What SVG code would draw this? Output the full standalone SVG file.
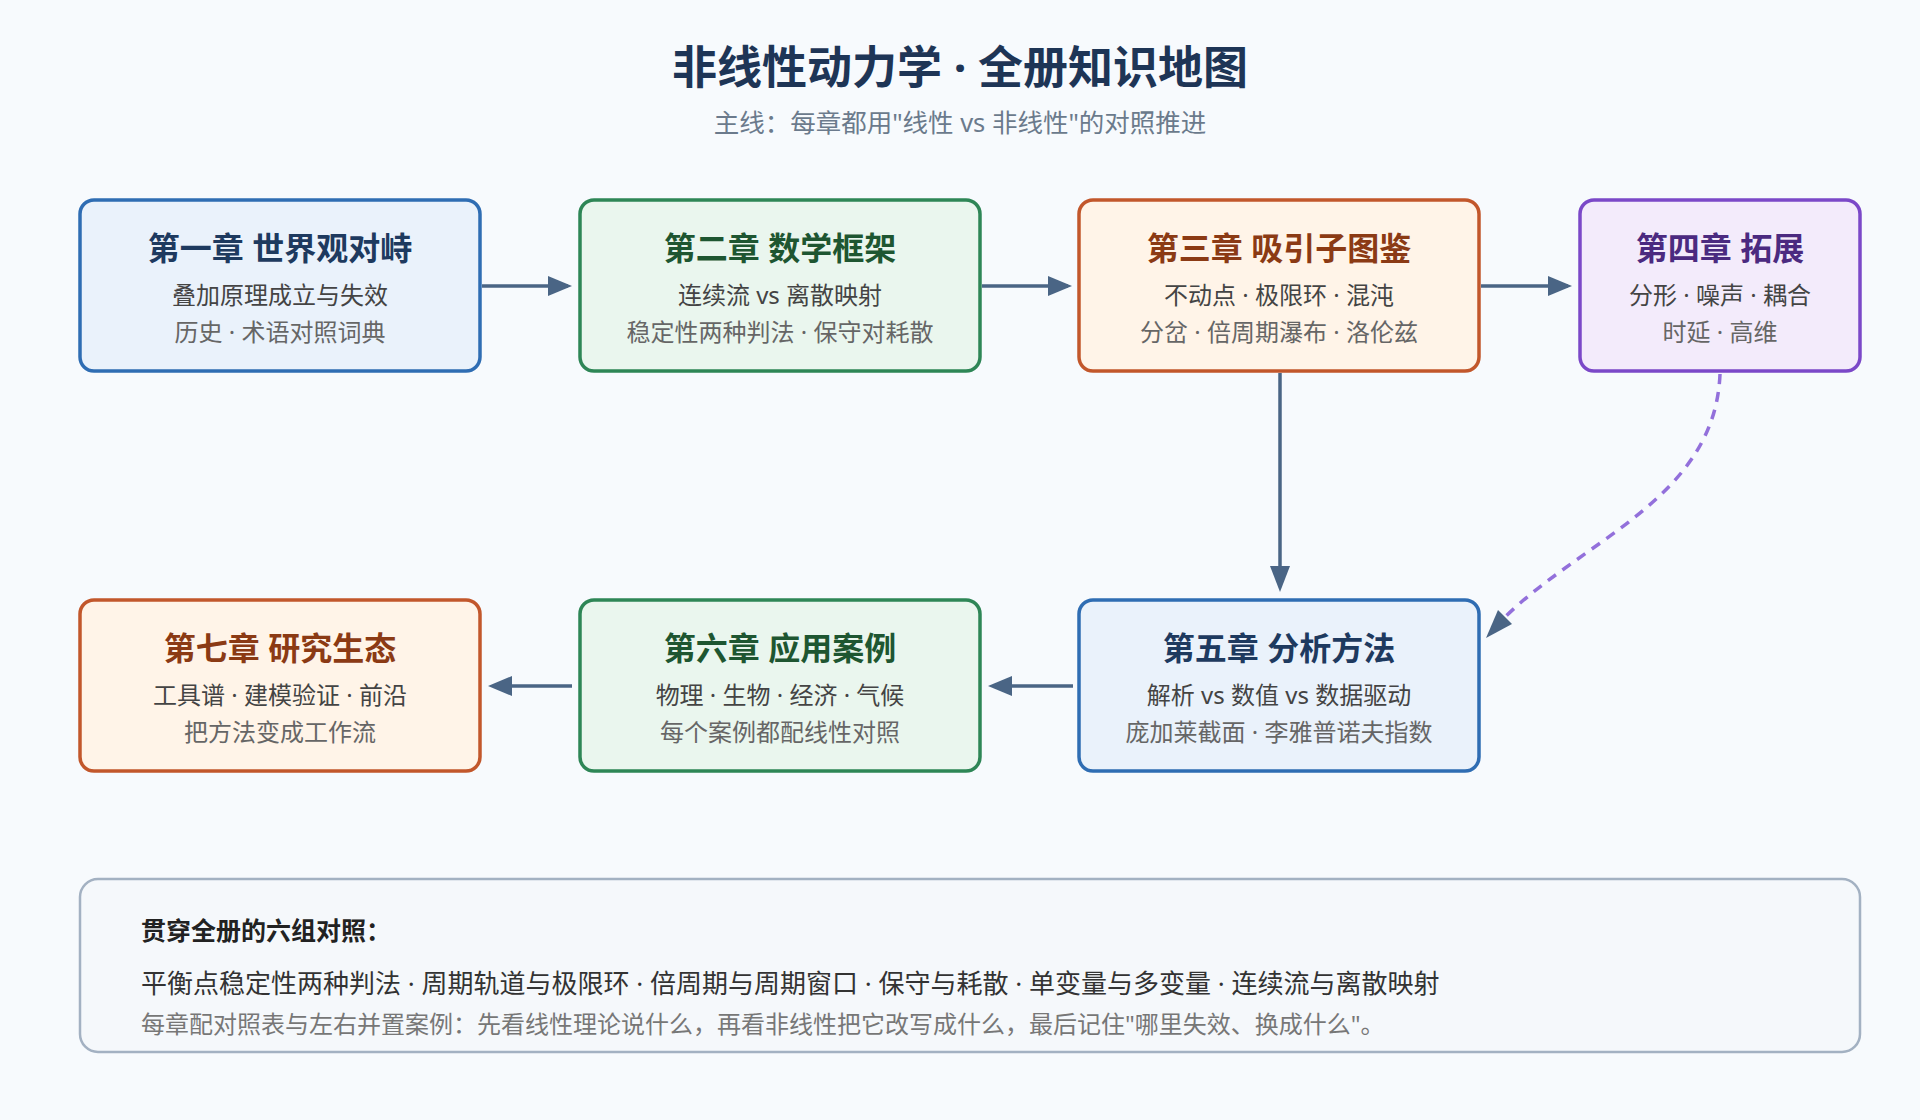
<svg xmlns="http://www.w3.org/2000/svg" width="1920" height="1120" viewBox="0 0 1920 1120">
<defs>
<style>
text{font-family:"Noto Sans","Noto Sans CJK SC",sans-serif;text-anchor:middle}
.t{font-size:32px;font-weight:700}
.b{font-size:24px;fill:#444}
.c{font-size:24px;fill:#666}
.box{stroke-width:3.5}
.blue{fill:#eaf2fb;stroke:#2f6db3}.green{fill:#eaf6ee;stroke:#2e8656}.orange{fill:#fff4e8;stroke:#c2572b}.purple{fill:#f3ebfb;stroke:#7b48c8}
.conn{stroke:#4a6585;stroke-width:3.5;fill:none}
.head{fill:#4a6585}
</style>
</defs>
<rect width="1920" height="1120" fill="#f7fafd"/>
<text x="960" y="84" style="font-size:45px;font-weight:700;fill:#1e3556">非线性动力学 · 全册知识地图</text>
<text x="960" y="132" style="font-size:25.5px;fill:#6b7a8c">主线：每章都用"线性 vs 非线性"的对照推进</text>
<g id="connectors">
<path d="M482,286H568" class="conn"/><path class="head" d="M548,276L572,286L548,296z"/>
<path d="M982,286H1068" class="conn"/><path class="head" d="M1048,276L1072,286L1048,296z"/>
<path d="M1481,286H1568" class="conn"/><path class="head" d="M1548,276L1572,286L1548,296z"/>
<path d="M1280,373V568" class="conn"/><path class="head" d="M1270,566L1280,592L1290,566z"/>
<path d="M1720,374C1715,500 1580,540 1500,622" fill="none" stroke="#9370db" stroke-width="3.5" stroke-dasharray="10,8"/>
<path class="head" d="M1498,610L1486,638L1512,624z"/>
<path d="M1073,686H1010" class="conn"/><path class="head" d="M1012,676L988,686L1012,696z"/>
<path d="M572,686H510" class="conn"/><path class="head" d="M512,676L488,686L512,696z"/>
</g>
<g id="n1"><rect class="box blue" x="80" y="200" width="400" height="171" rx="14"/><text class="t" x="280" y="260" fill="#1e3a5f">第一章 世界观对峙</text><text class="b" x="280" y="304">叠加原理成立与失效</text><text class="c" x="280" y="341">历史 · 术语对照词典</text></g>
<g id="n2"><rect class="box green" x="580" y="200" width="400" height="171" rx="14"/><text class="t" x="780" y="260" fill="#1e5631">第二章 数学框架</text><text class="b" x="780" y="304">连续流 vs 离散映射</text><text class="c" x="780" y="341">稳定性两种判法 · 保守对耗散</text></g>
<g id="n3"><rect class="box orange" x="1079" y="200" width="400" height="171" rx="14"/><text class="t" x="1279" y="260" fill="#8b3a14">第三章 吸引子图鉴</text><text class="b" x="1279" y="304">不动点 · 极限环 · 混沌</text><text class="c" x="1279" y="341">分岔 · 倍周期瀑布 · 洛伦兹</text></g>
<g id="n4"><rect class="box purple" x="1580" y="200" width="280" height="171" rx="14"/><text class="t" x="1720" y="260" fill="#4b2a80">第四章 拓展</text><text class="b" x="1720" y="304">分形 · 噪声 · 耦合</text><text class="c" x="1720" y="341">时延 · 高维</text></g>
<g id="n5"><rect class="box blue" x="1079" y="600" width="400" height="171" rx="14"/><text class="t" x="1279" y="660" fill="#1e3a5f">第五章 分析方法</text><text class="b" x="1279" y="704">解析 vs 数值 vs 数据驱动</text><text class="c" x="1279" y="741">庞加莱截面 · 李雅普诺夫指数</text></g>
<g id="n6"><rect class="box green" x="580" y="600" width="400" height="171" rx="14"/><text class="t" x="780" y="660" fill="#1e5631">第六章 应用案例</text><text class="b" x="780" y="704">物理 · 生物 · 经济 · 气候</text><text class="c" x="780" y="741">每个案例都配线性对照</text></g>
<g id="n7"><rect class="box orange" x="80" y="600" width="400" height="171" rx="14"/><text class="t" x="280" y="660" fill="#8b3a14">第七章 研究生态</text><text class="b" x="280" y="704">工具谱 · 建模验证 · 前沿</text><text class="c" x="280" y="741">把方法变成工作流</text></g>
<g id="summary"><rect x="80" y="879" width="1780" height="173" rx="18" fill="#f5f8fb" stroke="#a3b1c2" stroke-width="2.5"/>
<text x="141" y="940" style="text-anchor:start;font-size:25px;font-weight:700;fill:#222">贯穿全册的六组对照：</text>
<text x="141" y="993" style="text-anchor:start;font-size:26px;fill:#333">平衡点稳定性两种判法 · 周期轨道与极限环 · 倍周期与周期窗口 · 保守与耗散 · 单变量与多变量 · 连续流与离散映射</text>
<text x="141" y="1033" style="text-anchor:start;font-size:24px;fill:#777">每章配对照表与左右并置案例：先看线性理论说什么，再看非线性把它改写成什么，最后记住"哪里失效、换成什么"。</text></g>
</svg>
